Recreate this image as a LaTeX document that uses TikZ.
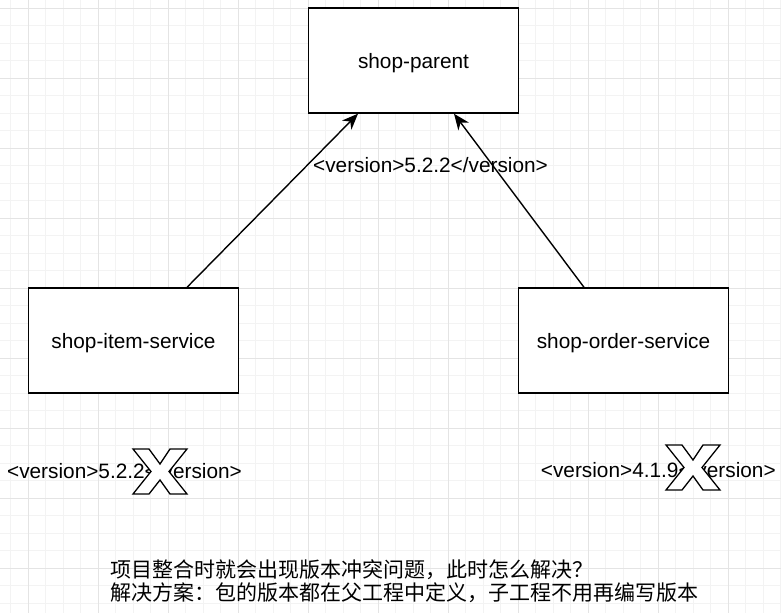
\documentclass[tikz,border=0pt]{standalone}
\usepackage{fontspec}
\setmainfont{Liberation Sans}
\newfontfamily\cjk{Noto Sans CJK SC}
\usetikzlibrary{arrows.meta}

\definecolor{GridMinor}{HTML}{F3F3F3}
\definecolor{GridMajor}{HTML}{E4E4E4}

\tikzset{
  module/.style={draw=black, line width=1.4pt, fill=white, minimum width=210pt,
    minimum height=105pt, inner sep=0pt, text depth=0pt, font=\fontsize{20.8}{25}\selectfont},
  inherit/.style={line width=1.4pt, -{Stealth[length=16pt,width=13pt,inset=5pt]}},
  vlabel/.style={anchor=base, inner sep=0pt, font=\fontsize{20.8}{25}\selectfont},
  crossmark/.pic={
    \filldraw [fill=white, draw=black, line width=1.3pt]
      (0,0) -- (16,0) -- (27,15) -- (37,0) -- (54,0) -- (36,22.5) -- (54,45)
      -- (37,45) -- (27,31) -- (16,45) -- (0,45) -- (18,22.5) -- cycle ;
  }
}

\begin{document}
\begin{tikzpicture}[x=1pt, y=-1pt]

 \useasboundingbox (0,0) rectangle (781,613) ;
 \fill [white] (0,0) rectangle (781,613) ;

 %%%%%%%%%% Grid %%%%%%%%%%
 \foreach \i in {0,...,44}
   \draw [GridMinor, line width=1pt] ({10.8+17.5*\i},0) -- ({10.8+17.5*\i},613) ;
 \foreach \i in {0,...,34}
   \draw [GridMinor, line width=1pt] (0,{8.3+17.5*\i}) -- (781,{8.3+17.5*\i}) ;
 \foreach \i in {0,...,10}
   \draw [GridMajor, line width=1pt] ({28.3+70*\i},0) -- ({28.3+70*\i},613) ;
 \foreach \i in {0,...,8}
   \draw [GridMajor, line width=1pt] (0,{8.3+70*\i}) -- (781,{8.3+70*\i}) ;

 %%%%%%%%%% Modules %%%%%%%%%%
 \node [module] (parent) at (413.5,60.5) {shop-parent} ;
 \node [module] (item) at (133.5,340.5) {shop-item-service} ;
 \node [module] (order) at (623.5,340.5) {shop-order-service} ;

 % Inheritance
 \draw [inherit] ([xshift=53.5pt]item.north) -- ([xshift=-55.5pt]parent.south) ;
 \draw [inherit] ([xshift=-39.5pt]order.north) -- ([xshift=40.5pt]parent.south) ;

 %%%%%%%%%% Versions %%%%%%%%%%
 \node [vlabel] (vparent) at (430.5,172) {<version>5.2.2</version>} ;
 \node [vlabel] (vitem) at (124.5,478) {<version>5.2.2</version>} ;
 \node [vlabel] (vorder) at (658.3,477) {<version>4.1.9</version>} ;

 \pic at (133,449) {crossmark} ;
 \pic at (666,445) {crossmark} ;

 %%%%%%%%%% Note %%%%%%%%%%
 \node [anchor=north west, inner sep=0pt, align=left, font=\cjk\fontsize{21}{23.4}\selectfont]
   (note) at (110,559.5) {项目整合时就会出现版本冲突问题，此时怎么解决？\\解决方案：包的版本都在父工程中定义，子工程不用再编写版本} ;

\end{tikzpicture}
\end{document}
